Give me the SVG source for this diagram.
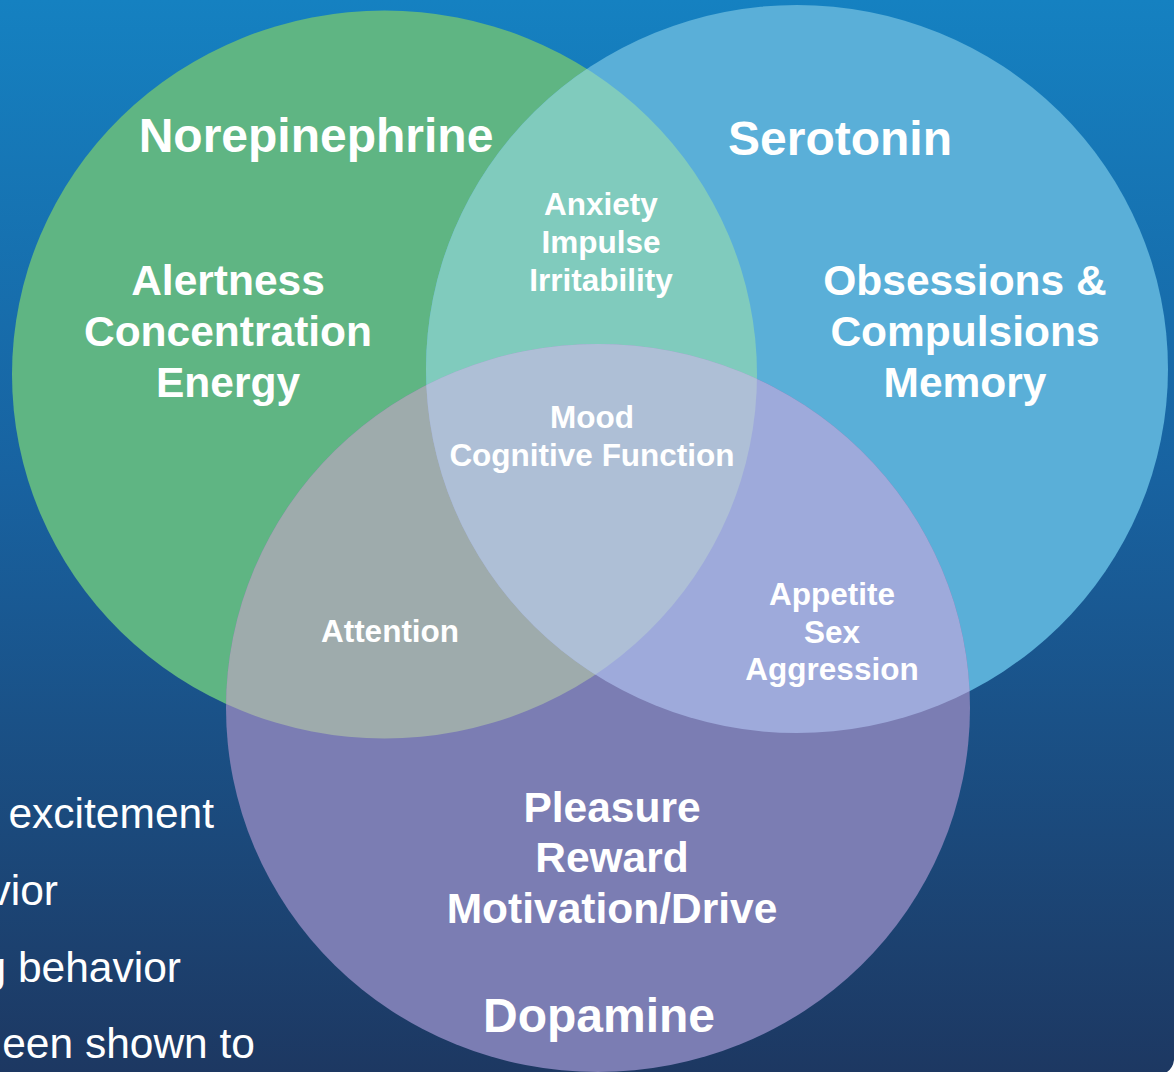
<svg xmlns="http://www.w3.org/2000/svg" width="1174" height="1072" viewBox="0 0 1174 1072">
<defs>
<linearGradient id="bg" x1="0" y1="0" x2="0" y2="1">
<stop offset="0" stop-color="#1581c1"/>
<stop offset="0.45" stop-color="#1862a0"/>
<stop offset="1" stop-color="#1d3862"/>
</linearGradient>
<clipPath id="clipG"><ellipse cx="384.5" cy="374.5" rx="372.5" ry="364"/></clipPath>
<clipPath id="clipB"><ellipse cx="797" cy="369" rx="371" ry="364"/></clipPath>
<clipPath id="clipP"><ellipse cx="598" cy="708" rx="372" ry="364"/></clipPath>
<style>
.big{font-family:"Liberation Sans",Arial,sans-serif;font-weight:bold;fill:#fff;text-anchor:middle;font-size:48px}
.mid{font-family:"Liberation Sans",Arial,sans-serif;font-weight:bold;fill:#fff;text-anchor:middle;font-size:42.5px}
.sm{font-family:"Liberation Sans",Arial,sans-serif;font-weight:bold;fill:#fff;text-anchor:middle;font-size:31.5px}
.side{font-family:"Liberation Sans",Arial,sans-serif;fill:#fff;text-anchor:end;font-size:42.5px}
</style>
</defs>
<rect x="0" y="0" width="1174" height="1072" fill="url(#bg)"/>
<path d="M1174 1060 Q1173 1068 1167 1072 L1174 1072 Z" fill="#fff"/>
<g id="side-text">
<text class="side" x="214" y="828">excitement</text>
<text class="side" x="58" y="905">vior</text>
<text class="side" x="181" y="982">g behavior</text>
<text class="side" x="255" y="1058">een shown to</text>
</g>
<g id="norepinephrine">
<ellipse cx="384.5" cy="374.5" rx="372.5" ry="364" fill="#5fb583"/>
</g>
<g id="serotonin">
<ellipse cx="797" cy="369" rx="371" ry="364" fill="#5aafd8"/>
</g>
<g id="dopamine">
<ellipse cx="598" cy="708" rx="372" ry="364" fill="#7b7db3"/>
</g>
<g id="overlaps">
<g clip-path="url(#clipG)"><ellipse cx="797" cy="369" rx="371" ry="364" fill="#80cbbd"/></g>
<g clip-path="url(#clipG)"><ellipse cx="598" cy="708" rx="372" ry="364" fill="#9eabac"/></g>
<g clip-path="url(#clipB)"><ellipse cx="598" cy="708" rx="372" ry="364" fill="#9eaadb"/></g>
<g clip-path="url(#clipG)"><g clip-path="url(#clipB)"><ellipse cx="598" cy="708" rx="372" ry="364" fill="#aebfd6"/></g></g>
</g>
<g id="labels-norepinephrine">
<text class="big" x="316" y="152">Norepinephrine</text>
<text class="mid" x="228" y="295">Alertness</text>
<text class="mid" x="228" y="346">Concentration</text>
<text class="mid" x="228" y="397">Energy</text>
</g>
<g id="labels-serotonin">
<text class="big" x="840" y="155">Serotonin</text>
<text class="mid" x="965" y="295">Obsessions &amp;</text>
<text class="mid" x="965" y="346">Compulsions</text>
<text class="mid" x="965" y="397">Memory</text>
</g>
<g id="labels-dopamine">
<text class="mid" x="612" y="822">Pleasure</text>
<text class="mid" x="612" y="872">Reward</text>
<text class="mid" x="612" y="923">Motivation/Drive</text>
<text class="big" x="599" y="1032">Dopamine</text>
</g>
<g id="labels-overlaps">
<text class="sm" x="601" y="215">Anxiety</text>
<text class="sm" x="601" y="253">Impulse</text>
<text class="sm" x="601" y="291">Irritability</text>
<text class="sm" x="592" y="428">Mood</text>
<text class="sm" x="592" y="466">Cognitive Function</text>
<text class="sm" x="390" y="642">Attention</text>
<text class="sm" x="832" y="605">Appetite</text>
<text class="sm" x="832" y="643">Sex</text>
<text class="sm" x="832" y="680">Aggression</text>
</g>
</svg>
